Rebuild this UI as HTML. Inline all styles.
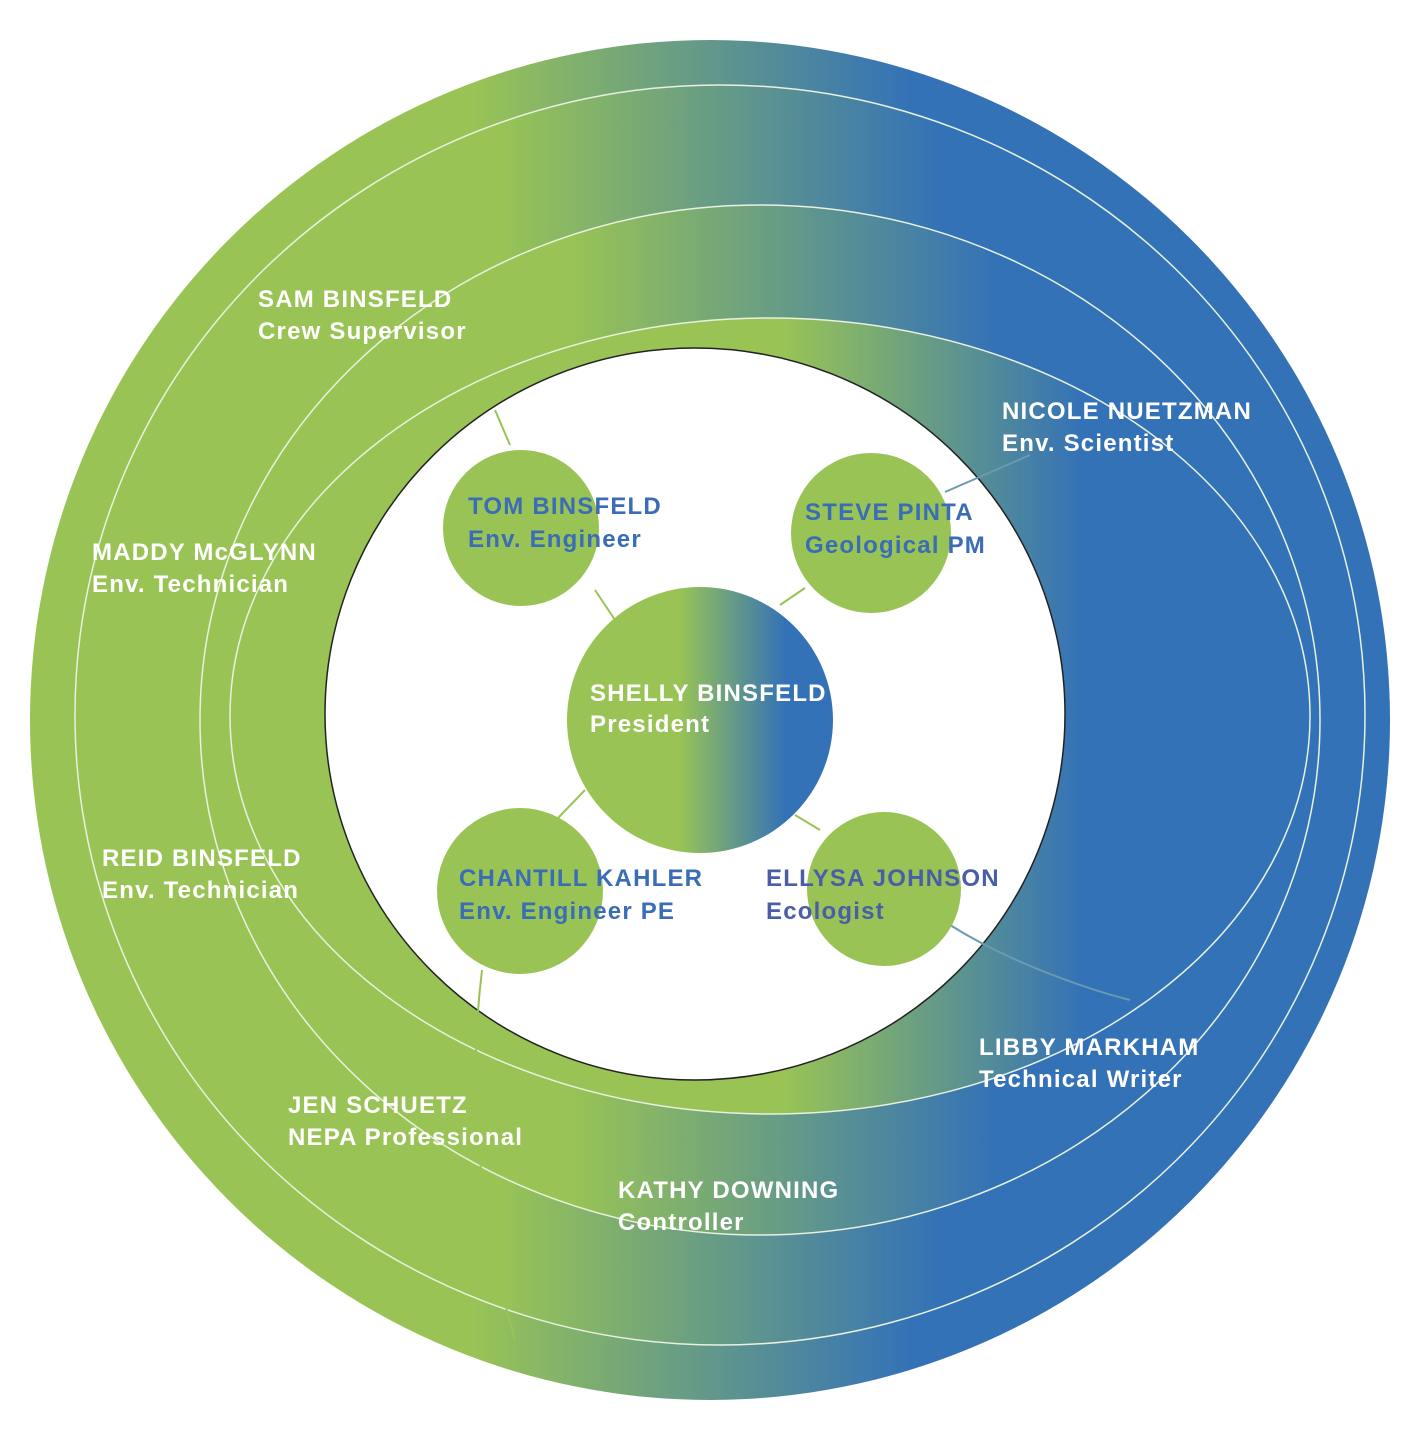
<!DOCTYPE html>
<html><head><meta charset="utf-8"><style>
html,body{margin:0;padding:0;background:#fff;}
svg{display:block}
text{font-family:"Liberation Sans",Arial,sans-serif;font-weight:bold;font-size:24px;letter-spacing:1.2px;}
.w{fill:#fff}.b{fill:#3a6db5}
</style></head><body>
<svg width="1422" height="1444" viewBox="0 0 1422 1444" xmlns="http://www.w3.org/2000/svg">
<defs>
<linearGradient id="g1" gradientUnits="userSpaceOnUse" x1="0" y1="0" x2="1422" y2="0">
<stop offset="0.33" stop-color="#99c455"/><stop offset="0.64" stop-color="#3472b7"/></linearGradient>
<linearGradient id="g2" gradientUnits="userSpaceOnUse" x1="0" y1="0" x2="1422" y2="0">
<stop offset="0.35" stop-color="#99c455"/><stop offset="0.66" stop-color="#3472b7"/></linearGradient>
<linearGradient id="g3" gradientUnits="userSpaceOnUse" x1="0" y1="0" x2="1422" y2="0">
<stop offset="0.40" stop-color="#99c455"/><stop offset="0.70" stop-color="#3472b7"/></linearGradient>
<linearGradient id="g4" gradientUnits="userSpaceOnUse" x1="0" y1="0" x2="1422" y2="0">
<stop offset="0.55" stop-color="#99c455"/><stop offset="0.76" stop-color="#3472b7"/></linearGradient>
<linearGradient id="gs" gradientUnits="userSpaceOnUse" x1="567" y1="0" x2="833" y2="0">
<stop offset="0.42" stop-color="#99c455"/><stop offset="0.82" stop-color="#3472b7"/></linearGradient>
</defs>
<ellipse cx="710" cy="720" rx="680" ry="680" fill="url(#g1)"/>
<ellipse cx="720" cy="715" rx="645" ry="630" fill="url(#g2)" stroke="#e8f0e0" stroke-width="1.5"/>
<ellipse cx="760" cy="720" rx="560" ry="515" fill="url(#g3)" stroke="#e8f0e0" stroke-width="1.5"/>
<ellipse cx="770" cy="716" rx="540" ry="398" fill="url(#g4)" stroke="#e8f0e0" stroke-width="1.5"/>
<ellipse cx="695" cy="714" rx="370" ry="366" fill="#fff" stroke="#222" stroke-width="1.5"/>
<g stroke="#99c455" stroke-width="2" fill="none">
<line x1="495" y1="410" x2="510" y2="445"/>
<line x1="595" y1="590" x2="615" y2="620"/>
<line x1="780" y1="605" x2="805" y2="588"/>
<line x1="585" y1="790" x2="558" y2="818"/>
<line x1="795" y1="815" x2="820" y2="830"/>
<path d="M482 970 Q460 1150 515 1340"/>
</g>
<g stroke="#6a9ab0" stroke-width="2" fill="none">
<line x1="945" y1="492" x2="1030" y2="455"/>
<path d="M950 925 Q990 950 1040 970 T1130 1000"/>
</g>
<circle cx="521" cy="528" r="78" fill="#99c455"/>
<circle cx="871" cy="533" r="80" fill="#99c455"/>
<circle cx="520" cy="891" r="83" fill="#99c455"/>
<circle cx="884" cy="889" r="77" fill="#99c455"/>
<circle cx="700" cy="720" r="133" fill="url(#gs)"/>
<text class="w" x="258" y="307">SAM BINSFELD</text><text class="w" x="258" y="339">Crew Supervisor</text>
<text class="w" x="1002" y="419">NICOLE NUETZMAN</text><text class="w" x="1002" y="451">Env. Scientist</text>
<text class="w" x="92" y="560">MADDY McGLYNN</text><text class="w" x="92" y="592">Env. Technician</text>
<text class="w" x="102" y="866">REID BINSFELD</text><text class="w" x="102" y="898">Env. Technician</text>
<text class="w" x="288" y="1113">JEN SCHUETZ</text><text class="w" x="288" y="1145">NEPA Professional</text>
<text class="w" x="618" y="1198">KATHY DOWNING</text><text class="w" x="618" y="1230">Controller</text>
<text class="w" x="979" y="1055">LIBBY MARKHAM</text><text class="w" x="979" y="1087">Technical Writer</text>
<text class="w" x="590" y="701">SHELLY BINSFELD</text><text class="w" x="590" y="732">President</text>
<text class="b" x="468" y="514">TOM BINSFELD</text><text class="b" x="468" y="547">Env. Engineer</text>
<text class="b" x="805" y="520">STEVE PINTA</text><text class="b" x="805" y="553">Geological PM</text>
<text class="b" x="459" y="886">CHANTILL KAHLER</text><text class="b" x="459" y="919">Env. Engineer PE</text>
<text class="b" x="766" y="886" style="fill:#4a5ea8">ELLYSA JOHNSON</text><text class="b" x="766" y="919" style="fill:#4a5ea8">Ecologist</text>
</svg>
</body></html>
